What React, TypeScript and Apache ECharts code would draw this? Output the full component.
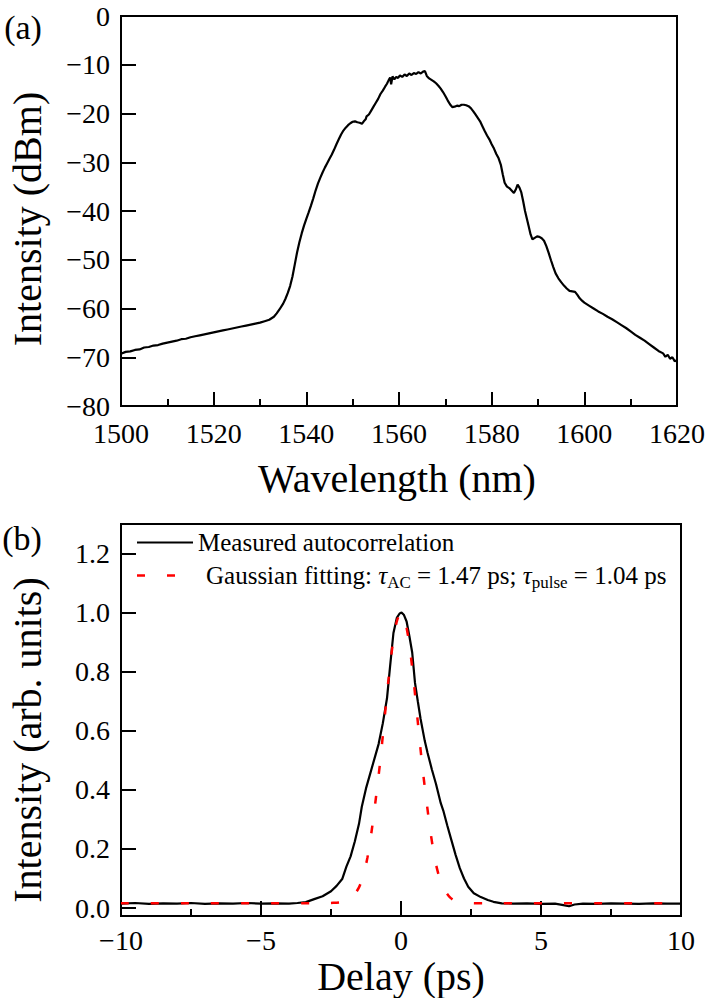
import React, { useEffect, useRef } from "react";
import * as echarts from "echarts";

const FONT = "Liberation Serif";

// Panel (a): optical spectrum
const wavelengthNm = [
  1500, 1501, 1502, 1503, 1504, 1505, 1506, 1507, 1508, 1509, 1510, 1511, 1512, 1513, 1514, 1515, 1516, 1517, 1518, 1519,
  1520, 1521, 1522, 1523, 1524, 1525, 1526, 1527, 1528, 1529, 1530, 1531, 1532, 1533, 1533.6, 1534.2, 1535, 1535.5, 1536,
  1536.5, 1537, 1537.5, 1538, 1538.5, 1539, 1539.5, 1540, 1540.5, 1541, 1541.5, 1542, 1542.5, 1543, 1543.5, 1544, 1544.5,
  1545, 1545.5, 1546, 1546.5, 1547, 1547.5, 1548, 1548.5, 1549, 1549.5, 1550, 1550.5, 1551, 1551.5, 1552, 1552.4, 1552.8,
  1553, 1553.5, 1554, 1554.5, 1555, 1555.5, 1556, 1556.5, 1557, 1557.4, 1557.8, 1558.1, 1558.3, 1558.6, 1559, 1559.4,
  1559.8, 1560.2, 1560.7, 1561.2, 1561.7, 1562.2, 1562.7, 1563.2, 1563.7, 1564.2, 1564.7, 1565.2, 1565.6, 1566, 1566.5,
  1567, 1567.5, 1568, 1568.5, 1569, 1569.5, 1570, 1570.5, 1571, 1571.5, 1572, 1572.5, 1573, 1573.5, 1574, 1574.5, 1575,
  1575.5, 1576, 1576.5, 1577, 1577.5, 1578, 1578.5, 1579, 1579.5, 1580, 1580.5, 1581, 1581.5, 1582, 1582.4, 1582.8, 1583.3,
  1583.8, 1584.3, 1584.8, 1585.2, 1585.6, 1586, 1586.4, 1586.8, 1587.2, 1587.6, 1588, 1588.4, 1588.8, 1589.3, 1589.8,
  1590.3, 1590.8, 1591.3, 1591.8, 1592.3, 1592.8, 1593.3, 1593.8, 1594.4, 1595, 1595.6, 1596.2, 1596.8, 1597.4, 1598,
  1598.5, 1599, 1599.5, 1600, 1601, 1602, 1603, 1604, 1605, 1606, 1607, 1608, 1609, 1610, 1611, 1612, 1613, 1614, 1615,
  1616, 1617, 1617.5, 1618, 1618.5, 1619, 1619.5, 1620,
];
const powerDbm = [
  -69.3, -68.9, -68.8, -68.5, -68.4, -68.0, -67.9, -67.6, -67.5, -67.2, -67.0, -66.8, -66.6, -66.3, -66.2, -65.9, -65.7, -65.5, -65.3, -65.1,
  -64.9, -64.7, -64.5, -64.3, -64.1, -63.9, -63.7, -63.5, -63.3, -63.1, -62.9, -62.6, -62.3, -61.7, -61.0, -60.2, -59.0, -58.0, -56.8,
  -55.4, -53.5, -51.0, -48.5, -46.4, -44.6, -43.0, -41.6, -40.3, -38.9, -37.4, -35.8, -34.4, -33.2, -32.1, -31.1, -30.2,
  -29.3, -28.4, -27.4, -26.3, -25.3, -24.3, -23.5, -22.9, -22.4, -22.0, -21.7, -21.6, -21.8, -21.9, -22.1, -21.6, -21.2,
  -20.6, -20.2, -19.4, -18.6, -17.8, -17.0, -16.0, -15.3, -14.5, -13.9, -13.1, -12.6, -14.0, -12.4, -13.0, -12.5,
  -12.7, -12.2, -12.5, -12.0, -12.3, -11.8, -12.1, -11.7, -11.9, -11.5, -11.8, -11.4, -11.3, -12.3, -12.8,
  -13.1, -13.4, -13.8, -14.3, -14.9, -15.6, -16.4, -17.3, -18.1, -18.7, -18.6, -18.4, -18.5, -18.2, -18.2, -18.3, -18.5,
  -18.9, -19.5, -20.2, -20.9, -21.6, -22.6, -23.6, -24.5, -25.3, -26.3, -27.2, -28.3, -29.2, -30.6, -32.5, -34.2, -35.0,
  -35.3, -35.8, -36.3, -35.6, -34.6, -35.2, -36.2, -38.0, -40.0, -41.6, -43.2, -44.8, -45.8, -45.5, -45.2,
  -45.3, -45.6, -46.1, -47.2, -48.6, -50.1, -51.5, -52.8, -53.8, -54.6, -55.3, -55.9, -56.4, -56.5, -56.6,
  -57.2, -57.9, -58.4, -58.8, -59.4, -60.0, -60.6, -61.1, -61.7, -62.2, -62.8, -63.4, -64.0, -64.7, -65.4, -66.0, -66.6, -67.3, -68.0,
  -68.7, -69.2, -69.9, -69.5, -70.3, -70.0, -70.8, -70.6,
];

// Panel (b): autocorrelation trace
const delayMeasured = [
  -10, -9.5, -9, -8.5, -8, -7.5, -7, -6.5, -6, -5.5, -5, -4.5, -4, -3.7, -3.4, -3.1, -2.8, -2.5, -2.3, -2.1, -1.95,
  -1.8, -1.65, -1.5, -1.4, -1.25, -1.1, -0.95, -0.8, -0.65, -0.5, -0.39, -0.27, -0.15, -0.05, 0.02, 0.1, 0.2, 0.3, 0.4,
  0.5, 0.6, 0.7, 0.85, 0.95, 1.1, 1.25, 1.42, 1.51, 1.65, 1.8, 1.95, 2.1, 2.25, 2.4, 2.6, 2.85, 3.1, 3.3, 3.6, 4, 4.5,
  5, 5.5, 5.8, 6, 6.2, 6.5, 7, 7.5, 8, 8.5, 9, 9.5, 10,
];
const intensityMeasured = [
  0.015, 0.017, 0.014, 0.016, 0.015, 0.017, 0.014, 0.016, 0.015, 0.017, 0.015, 0.016, 0.015, 0.017, 0.02, 0.03, 0.04, 0.057, 0.075, 0.098, 0.14,
  0.175, 0.225, 0.285, 0.343, 0.405, 0.455, 0.505, 0.555, 0.625, 0.71, 0.818, 0.931, 0.982, 0.997, 1.0, 0.993, 0.97, 0.92, 0.865,
  0.762, 0.7, 0.64, 0.565, 0.525, 0.47, 0.42, 0.355, 0.33, 0.28, 0.23, 0.18, 0.135, 0.1, 0.072, 0.05, 0.037, 0.027, 0.021, 0.016, 0.015, 0.016,
  0.014, 0.015, 0.01, 0.006, 0.012, 0.015, 0.014, 0.016, 0.015, 0.014, 0.016, 0.015, 0.015,
];
const delayFit = [
  -10, -3, -2.5, -2.0, -1.75, -1.5, -1.35, -1.2, -1.05, -0.9, -0.75, -0.6, -0.45, -0.3, -0.15, 0,
  0.15, 0.3, 0.45, 0.6, 0.75, 0.9, 1.05, 1.2, 1.35, 1.5, 1.75, 2.0, 2.5, 3, 10,
];
const intensityFit = [
  0.016, 0.016, 0.017, 0.022, 0.036, 0.07, 0.11, 0.17, 0.26, 0.37, 0.49, 0.63, 0.77, 0.89, 0.97, 1.0,
  0.97, 0.89, 0.77, 0.63, 0.49, 0.37, 0.26, 0.17, 0.11, 0.07, 0.036, 0.022, 0.017, 0.016, 0.016,
];

const yTicksB = [0, 0.2, 0.4, 0.6, 0.8, 1.0, 1.2];

const zip = (a: number[], b: number[]) => a.map((v, i) => [v, b[i]]);
const minus = (v: number) => String(v).replace("-", "\u2212");

export default function App() {
  const ref = useRef<HTMLDivElement>(null);
  useEffect(() => {
    if (!ref.current) return;
    const chart = echarts.init(ref.current, undefined, { renderer: "svg" });
    const black = "#000";
    const axisLine = { show: true, onZero: false, lineStyle: { color: black, width: 2 } };
    const tick = (len: number) => ({ show: true, inside: true, length: len, lineStyle: { color: black, width: 2 } });
    const label = (margin: number, formatter: any) => ({
      color: black,
      fontFamily: FONT,
      fontSize: 28,
      margin,
      formatter,
    });
    const textStyle = (text: string, size: number) => ({
      text, font: `${size}px 'Liberation Serif'`, fill: black, align: "center", verticalAlign: "middle",
    });
    const option: any = {
      animation: false,
      backgroundColor: "#fff",
      grid: [
        { left: 121, top: 16, width: 558, height: 390, show: true, borderColor: black, borderWidth: 2, backgroundColor: "transparent" },
        { left: 121, top: 524, width: 560, height: 392, show: true, borderColor: black, borderWidth: 2, backgroundColor: "transparent" },
      ],
      xAxis: [
        {
          type: "value", gridIndex: 0, min: 1500, max: 1620, interval: 20,
          axisLine, axisTick: tick(14),
          minorTick: { show: true, splitNumber: 2, length: 7, lineStyle: { color: black, width: 2 } },
          splitLine: { show: false }, minorSplitLine: { show: false },
          axisLabel: label(13, (v: number) => String(v)),
        },
        {
          type: "value", gridIndex: 1, min: -10, max: 10, interval: 5,
          axisLine, axisTick: tick(15),
          minorTick: { show: true, splitNumber: 2, length: 7, lineStyle: { color: black, width: 2 } },
          splitLine: { show: false }, minorSplitLine: { show: false },
          axisLabel: label(10, minus),
        },
      ],
      yAxis: [
        {
          type: "value", gridIndex: 0, min: -80, max: 0, interval: 10,
          axisLine, axisTick: tick(15), splitLine: { show: false },
          axisLabel: label(11, minus),
        },
        {
          type: "value", gridIndex: 1, min: -0.027, max: 1.3,
          axisLine,
          axisTick: { ...tick(15), customValues: yTicksB },
          splitLine: { show: false },
          axisLabel: { ...label(11, (v: number) => v.toFixed(1)), customValues: yTicksB },
        },
      ],
      legend: [
        {
          data: [{ name: "Measured autocorrelation", icon: "rect" }], left: 137, top: 530, padding: 0,
          itemWidth: 56, itemHeight: 2, selectedMode: false, symbolKeepAspect: false,
          textStyle: { fontFamily: FONT, fontSize: 25, color: black },
        },
        {
          data: [{ name: "Gaussian fitting", icon: "path://M0,0h8v2.5h-8z M30,0h8v2.5h-8z" }],
          left: 137, top: 563, padding: 0,
          itemWidth: 38, itemHeight: 2.5, selectedMode: false, symbolKeepAspect: false,
          formatter: () => "{g| }{n|Gaussian fitting: }{t|\u03c4}{s|AC}{n| = 1.47 ps; }{t|\u03c4}{s|pulse}{n| = 1.04 ps}",
          textStyle: {
            fontFamily: FONT, fontSize: 25, color: black,
            rich: {
              g: { width: 26, fontSize: 25, lineHeight: 30 },
              n: { fontFamily: FONT, fontSize: 25, color: black, lineHeight: 30 },
              t: { fontFamily: FONT, fontSize: 25, fontStyle: "italic", color: black, lineHeight: 30 },
              s: { fontFamily: FONT, fontSize: 17, color: black, lineHeight: 17, verticalAlign: "bottom" },
            },
          },
        },
      ],
      graphic: [
        { type: "text", x: 23, y: 27, style: textStyle("(a)", 34) },
        { type: "text", x: 22, y: 538, style: textStyle("(b)", 34) },
        { type: "text", x: 397, y: 478, style: textStyle("Wavelength (nm)", 40) },
        { type: "text", x: 401, y: 976, style: textStyle("Delay (ps)", 40) },
        { type: "text", x: 27, y: 219, rotation: Math.PI / 2, style: textStyle("Intensity (dBm)", 40) },
        { type: "text", x: 27, y: 740, rotation: Math.PI / 2, style: textStyle("Intensity (arb. units)", 40) },
      ],
      series: [
        {
          type: "line", xAxisIndex: 0, yAxisIndex: 0, data: zip(wavelengthNm, powerDbm),
          symbol: "none", lineStyle: { color: black, width: 2.2 }, itemStyle: { color: black },
        },
        {
          name: "Measured autocorrelation", type: "line", xAxisIndex: 1, yAxisIndex: 1,
          data: zip(delayMeasured, intensityMeasured), symbol: "none",
          lineStyle: { color: black, width: 2.2 }, itemStyle: { color: black },
        },
        {
          name: "Gaussian fitting", type: "line", xAxisIndex: 1, yAxisIndex: 1,
          data: zip(delayFit, intensityFit), symbol: "none", smooth: 0.3,
          lineStyle: { color: "#ff0000", width: 2.5, type: [8, 22] }, itemStyle: { color: "#ff0000" },
        },
      ],
    };
    chart.setOption(option);
    return () => chart.dispose();
  }, []);
  return <div ref={ref} style={{ position: "fixed", left: 0, top: 0, width: 708, height: 998 }} />;
}
